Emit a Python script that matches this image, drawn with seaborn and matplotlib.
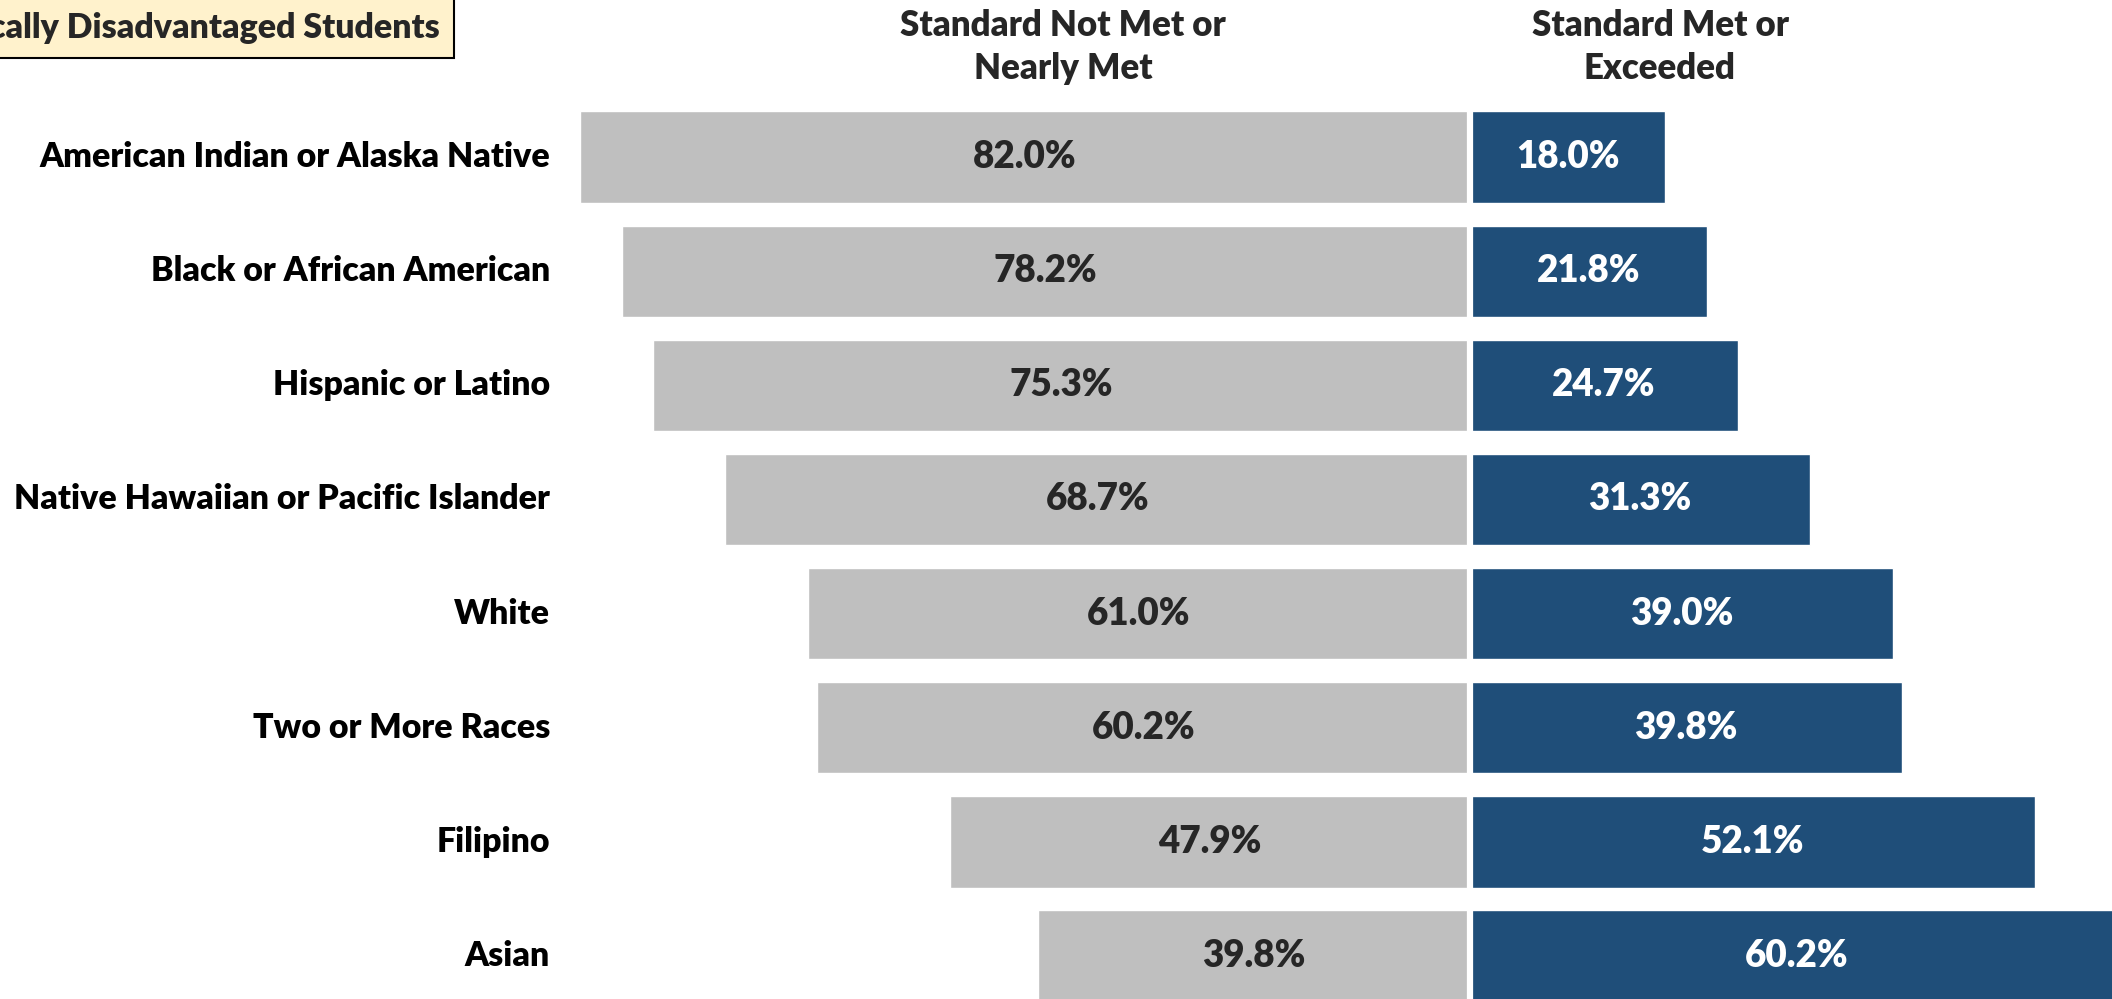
import matplotlib
matplotlib.use("Agg")
import matplotlib.pyplot as plt
import pandas as pd
import seaborn as sns

# data
groups = ["American Indian or Alaska Native", "Black or African American",
          "Hispanic or Latino", "Native Hawaiian or Pacific Islander",
          "White", "Two or More Races", "Filipino", "Asian"]
not_met = [82.0, 78.2, 75.3, 68.7, 61.0, 60.2, 47.9, 39.8]
met = [18.0, 21.8, 24.7, 31.3, 39.0, 39.8, 52.1, 60.2]

header_left = "Standard Not Met or\nNearly Met"
header_right = "Standard Met or\nExceeded"
title = "Socioeconomically Disadvantaged Students"

GRAY = "#BFBFBF"
BLUE = "#1F4E79"

df = pd.DataFrame({"group": groups, "not_met": not_met, "met": met})
df["not_met_neg"] = -df["not_met"]

sns.set_style("white")
plt.rcParams["font.family"] = ["Lato", "DejaVu Sans"]
W = "heavy"

fig = plt.figure(figsize=(21.12, 9.99), dpi=100)
ax = fig.add_axes([0, 0, 1, 1])

sns.barplot(data=df, y="group", x="not_met_neg", color=GRAY, width=0.8,
            orient="h", order=groups, ax=ax, saturation=1)
sns.barplot(data=df, y="group", x="met", color=BLUE, width=0.8,
            orient="h", order=groups, ax=ax, saturation=1)

# white gap between the two halves
ax.axvline(0, color="white", lw=4.5, zorder=5)

# pixel mapping: center at 1470px, ~10.85 px per percent, bar pitch 114px
ppx = 10.85
ax.set_xlim(-1470 / ppx, (2112 - 1470) / ppx)
pitch = 114.1
ax.set_ylim(7 + (999 - 956) / pitch, -157 / pitch)

for i, (a, b) in enumerate(zip(not_met, met)):
    ax.text(-a / 2, i, f"{a:.1f}%", ha="center", va="center",
            fontsize=26.5, fontweight=W, color="#262626", zorder=6)
    ax.text(b / 2, i, f"{b:.1f}%", ha="center", va="center",
            fontsize=26.5, fontweight=W, color="white", zorder=6)
    ax.text((550 - 1470) / ppx, i, groups[i], ha="right", va="center",
            fontsize=24.4, fontweight=W, color="black")

ax.set_xlabel("")
ax.set_ylabel("")
ax.set_xticks([])
ax.set_yticks([])
sns.despine(ax=ax, left=True, bottom=True)

fig.text(1063 / 2112, 1 - 47 / 999, header_left, ha="center", va="center",
         fontsize=25, fontweight=W, linespacing=1.4)
fig.text(1660 / 2112, 1 - 47 / 999, header_right, ha="center", va="center",
         fontsize=25, fontweight=W, linespacing=1.4)

fig.text(440 / 2112, 1 - 28 / 999, title, ha="right", va="center",
         fontsize=24.4, fontweight=W,
         bbox=dict(boxstyle="square,pad=0.42", facecolor="#FFF2CC",
                   edgecolor="black", linewidth=1.5))

fig.savefig("out.png", dpi=100)
